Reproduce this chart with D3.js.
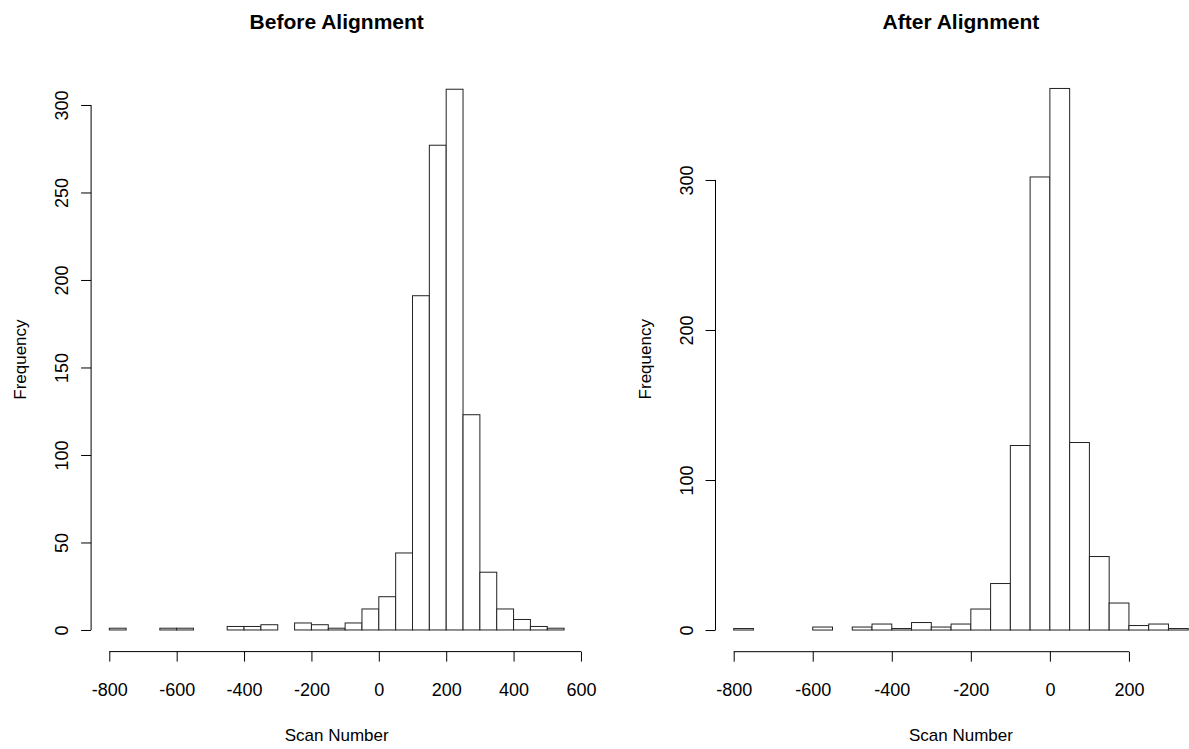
<!DOCTYPE html>
<meta charset="utf-8">
<script src="https://cdn.jsdelivr.net/npm/d3@7"></script>
<style>
body { margin: 0; background: #fff; }
text { font-family: "Liberation Sans", Arial, sans-serif; fill: #000; }
.bar { fill: #fff; stroke: #222; stroke-width: 1; }
.axis line, .axis path { stroke: #000; stroke-width: 1; }
</style>
<body>
<script>

// histogram bins: 50 wide, starting at the first break
var binWidth = 50;

var beforeStart = -800;
var beforeCounts = [1, 0, 0, 1, 1, 0, 0, 2, 2, 3, 0, 4, 3, 1, 4, 12,
                    19, 44, 191, 277, 309, 123, 33, 12, 6, 2, 1];
var beforeXTicks = [-800, -600, -400, -200, 0, 200, 400, 600];
var beforeYTicks = [0, 50, 100, 150, 200, 250, 300];

var afterStart = -800;
var afterCounts = [1, 0, 0, 0, 2, 0, 2, 4, 1, 5, 2, 4, 14, 31,
                   123, 302, 361, 125, 49, 18, 3, 4, 1];
var afterXTicks = [-800, -600, -400, -200, 0, 200];
var afterYTicks = [0, 100, 200, 300];

var width = 1189,
    height = 749;

var svg = d3.select("body").append("svg")
    .attr("width", width)
    .attr("height", height);

// plain hyphen for negatives, like R
var plain = function(d) { return String(d); };

function makeBins(start, counts) {
  return counts.map(function(c, i) {
    return { x0: start + i * binWidth, x1: start + (i + 1) * binWidth, count: c };
  });
}

function drawHist(opt) {
  var bins = makeBins(opt.start, opt.counts);
  var xmin = bins[0].x0, xmax = bins[bins.length - 1].x1;
  var ymax = d3.max(opt.counts);
  // R style 4% padding on both axes
  var dx = (xmax - xmin) * 0.04, dy = ymax * 0.04;

  var x = d3.scaleLinear()
      .domain([xmin - dx, xmax + dx])
      .range([opt.left, opt.right]);
  var y = d3.scaleLinear()
      .domain([-dy, ymax + dy])
      .range([opt.bottom, opt.top]);

  var g = svg.append("g");

  g.selectAll(".bar")
    .data(bins)
    .enter().append("rect")
    .attr("class", "bar")
    .attr("x", function(d) { return x(d.x0); })
    .attr("y", function(d) { return y(d.count); })
    .attr("width", function(d) { return x(d.x1) - x(d.x0); })
    .attr("height", function(d) { return y(0) - y(d.count); });

  // x axis
  var xa = g.append("g")
      .attr("class", "axis")
      .attr("transform", "translate(0," + opt.bottom + ")")
      .call(d3.axisBottom(x).tickValues(opt.xTicks).tickFormat(plain)
            .tickSize(10).tickSizeOuter(0).tickPadding(0));
  xa.select(".domain").attr("d", "M" + x(opt.xTicks[0]) + ",0H" + x(opt.xTicks[opt.xTicks.length - 1]));
  xa.selectAll("text")
    .attr("y", 44).attr("dy", null)
    .style("font-size", "18px");

  // y axis
  var ya = g.append("g")
      .attr("class", "axis")
      .attr("transform", "translate(" + opt.left + ",0)")
      .call(d3.axisLeft(y).tickValues(opt.yTicks).tickFormat(plain)
            .tickSize(10).tickSizeOuter(0));
  ya.select(".domain").attr("d", "M0," + y(opt.yTicks[0]) + "V" + y(opt.yTicks[opt.yTicks.length - 1]));
  ya.selectAll("text")
    .attr("x", null).attr("dy", null)
    .attr("text-anchor", "middle")
    .attr("transform", "translate(-23,0) rotate(-90)")
    .style("font-size", "18px");

  var cx = (opt.left + opt.right) / 2;
  var cy = (opt.top + opt.bottom) / 2;

  g.append("text")
    .attr("x", cx)
    .attr("y", 29)
    .attr("text-anchor", "middle")
    .style("font-size", "21px")
    .style("font-weight", "bold")
    .text(opt.title);

  g.append("text")
    .attr("x", cx)
    .attr("y", 741)
    .attr("text-anchor", "middle")
    .style("font-size", "17px")
    .text("Scan Number");

  g.append("text")
    .attr("transform", "translate(" + (opt.left - 65) + "," + cy + ") rotate(-90)")
    .attr("text-anchor", "middle")
    .style("font-size", "17px")
    .text("Frequency");
}

drawHist({
  title: "Before Alignment",
  start: beforeStart, counts: beforeCounts,
  xTicks: beforeXTicks, yTicks: beforeYTicks,
  left: 91.1, right: 582.3, top: 67.6, bottom: 651.6
});

drawHist({
  title: "After Alignment",
  start: afterStart, counts: afterCounts,
  xTicks: afterXTicks, yTicks: afterYTicks,
  left: 715.5, right: 1206.4, top: 66.8, bottom: 651.7
});

</script>
</body>
</html>
